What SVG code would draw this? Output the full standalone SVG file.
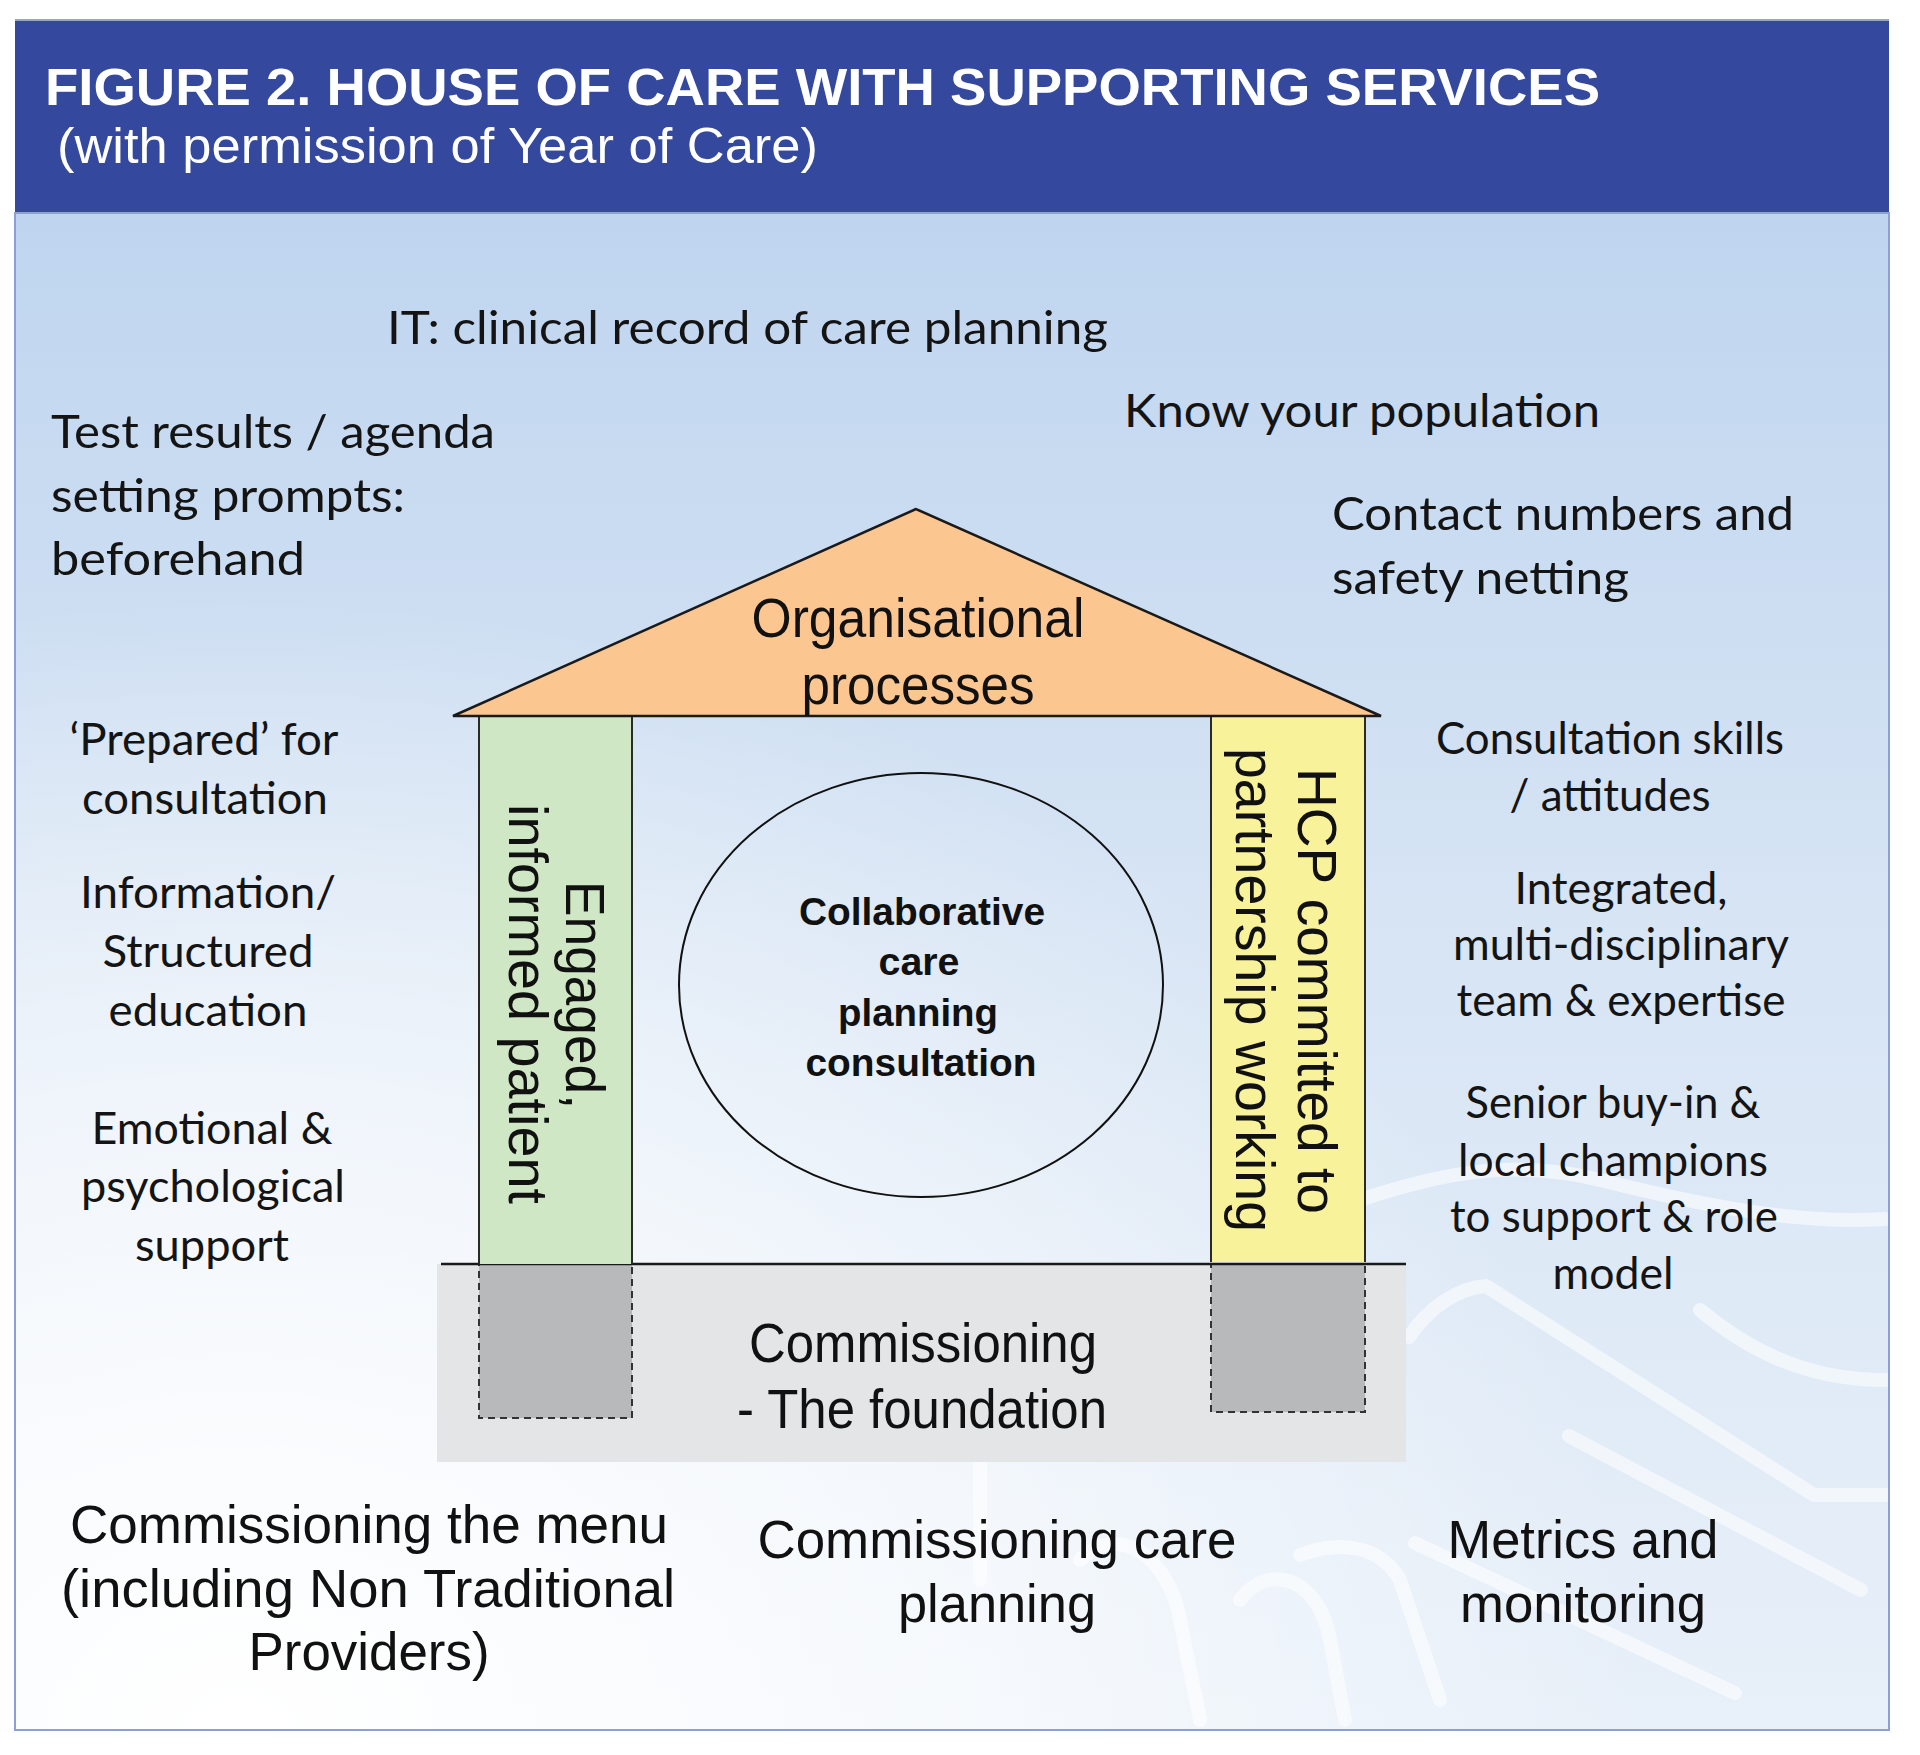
<svg xmlns="http://www.w3.org/2000/svg" width="1920" height="1755" viewBox="0 0 1920 1755">
<defs>
<linearGradient id="bg" x1="0" y1="0" x2="0" y2="1">
<stop offset="0" stop-color="#bfd5ef"/>
<stop offset="0.45" stop-color="#d6e4f4"/>
<stop offset="1" stop-color="#e8f0f9"/>
</linearGradient>
<radialGradient id="glow" cx="0.12" cy="1" r="0.75">
<stop offset="0" stop-color="#ffffff" stop-opacity="1"/>
<stop offset="0.55" stop-color="#ffffff" stop-opacity="0.6"/>
<stop offset="1" stop-color="#ffffff" stop-opacity="0"/>
</radialGradient>
<style>
.cal{font-family:Lato,"Open Sans","Liberation Sans",sans-serif;fill:#141414}
.ar{font-family:"Liberation Sans",Arial,sans-serif;fill:#111}
.top{font-size:47px}
.col{font-size:44px;text-anchor:middle}
.bot{font-size:54px;text-anchor:middle}
.wm{fill:none;stroke:#ffffff;stroke-opacity:0.55;stroke-width:14;stroke-linecap:round;stroke-linejoin:round}
.edge{stroke:#2a2a2a;stroke-width:2}
.dash{fill:#b7b9bb;stroke:#333;stroke-width:2;stroke-dasharray:7 5}
</style>
</defs>
<rect x="0" y="0" width="1920" height="1755" fill="#ffffff"/>
<g id="header">
<rect x="15" y="19" width="1874" height="194" fill="#34489e"/>
<line x1="15" y1="20" x2="1889" y2="20" stroke="#9aa6c8" stroke-width="2"/>
<text x="45" y="105" font-family="'Liberation Sans',Arial,sans-serif" font-weight="bold" font-size="52" fill="#ffffff" textLength="1555" lengthAdjust="spacingAndGlyphs">FIGURE 2. HOUSE OF CARE WITH SUPPORTING SERVICES</text>
<text x="57" y="163" font-family="'Liberation Sans',Arial,sans-serif" font-size="50" fill="#ffffff" textLength="761" lengthAdjust="spacingAndGlyphs">(with permission of Year of Care)</text>
</g>
<g id="background">
<rect x="15" y="213" width="1874" height="1517" fill="url(#bg)"/>
<rect x="15" y="213" width="1874" height="1517" fill="url(#glow)"/>
<path class="wm" d="M1363 1199 C1450 1170 1520 1160 1600 1180 C1700 1205 1800 1225 1885 1219"/>
<path class="wm" d="M1409 1337 C1430 1305 1460 1288 1486 1286 L1814 1495 L1885 1495"/>
<path class="wm" d="M1569 1436 L1861 1590"/>
<path class="wm" d="M1415 1543 L1735 1693"/>
<path class="wm" d="M1300 1555 C1340 1540 1380 1545 1400 1580 L1440 1700"/>
<path class="wm" d="M980 1463 L980 1580"/>
<path class="wm" d="M1080 1560 C1120 1520 1170 1560 1180 1620 L1200 1720"/>
<path class="wm" d="M1240 1600 C1270 1560 1320 1580 1330 1640 L1345 1720"/>
<path class="wm" d="M1700 1310 C1760 1360 1820 1380 1885 1380"/>
<rect x="15" y="213" width="1874" height="1517" fill="none" stroke="#8e9fd6" stroke-width="2"/>
</g>
<g id="foundation">
<rect x="437" y="1264" width="969" height="198" fill="#e4e5e7"/>
<rect class="dash" x="479" y="1264" width="153" height="154"/>
<rect class="dash" x="1211" y="1264" width="154" height="148"/>
<line x1="441" y1="1264" x2="1406" y2="1264" stroke="#1a1a1a" stroke-width="2.5"/>
<text class="ar" x="923" y="1362" font-size="56" text-anchor="middle" textLength="348" lengthAdjust="spacingAndGlyphs">Commissioning</text>
<text class="ar" x="922" y="1428" font-size="56" text-anchor="middle" textLength="370" lengthAdjust="spacingAndGlyphs">- The foundation</text>
</g>
<g id="pillar-left">
<rect x="479" y="716" width="153" height="548" fill="#cfe7c4"/>
<line class="edge" x1="479" y1="716" x2="479" y2="1264" stroke="#777"/>
<line class="edge" x1="632" y1="716" x2="632" y2="1264"/>
<text class="ar" font-size="55" text-anchor="middle" transform="translate(566 995) rotate(90)" textLength="228" lengthAdjust="spacingAndGlyphs">Engaged,</text>
<text class="ar" font-size="55" text-anchor="middle" transform="translate(509 1004) rotate(90)" textLength="400" lengthAdjust="spacingAndGlyphs">informed patient</text>
</g>
<g id="pillar-right">
<rect x="1211" y="716" width="154" height="546" fill="#f8f29a"/>
<line class="edge" x1="1211" y1="716" x2="1211" y2="1262"/>
<line class="edge" x1="1365" y1="716" x2="1365" y2="1262" stroke="#777"/>
<text class="ar" font-size="56" text-anchor="middle" transform="translate(1298 991) rotate(90)" textLength="446" lengthAdjust="spacingAndGlyphs">HCP committed to</text>
<text class="ar" font-size="56" text-anchor="middle" transform="translate(1236 990) rotate(90)" textLength="484" lengthAdjust="spacingAndGlyphs">partnership working</text>
</g>
<g id="roof">
<polygon points="916,509 453,716 1381,716" fill="#fcc690" stroke="#1a1a1a" stroke-width="2.5" stroke-linejoin="miter"/>
<text class="ar" x="918" y="637" font-size="56" text-anchor="middle" textLength="333" lengthAdjust="spacingAndGlyphs">Organisational</text>
<text class="ar" x="918" y="704" font-size="56" text-anchor="middle" textLength="233" lengthAdjust="spacingAndGlyphs">processes</text>
</g>
<g id="consultation">
<ellipse cx="921" cy="985" rx="242" ry="212" fill="none" stroke="#111" stroke-width="2"/>
<text class="ar" x="922" y="925" font-size="39" font-weight="bold" text-anchor="middle" textLength="246" lengthAdjust="spacingAndGlyphs">Collaborative</text>
<text class="ar" x="919" y="975" font-size="39" font-weight="bold" text-anchor="middle" textLength="81" lengthAdjust="spacingAndGlyphs">care</text>
<text class="ar" x="918" y="1026" font-size="39" font-weight="bold" text-anchor="middle" textLength="160" lengthAdjust="spacingAndGlyphs">planning</text>
<text class="ar" x="921" y="1076" font-size="39" font-weight="bold" text-anchor="middle" textLength="231" lengthAdjust="spacingAndGlyphs">consultation</text>
</g>
<g id="top-labels">
<text class="cal top" x="387" y="344" textLength="721" lengthAdjust="spacingAndGlyphs">IT: clinical record of care planning</text>
<text class="cal top" x="1124" y="427" textLength="476" lengthAdjust="spacingAndGlyphs">Know your population</text>
<text class="cal top" x="1332" y="530" textLength="462" lengthAdjust="spacingAndGlyphs">Contact numbers and</text>
<text class="cal top" x="1332" y="594" textLength="297" lengthAdjust="spacingAndGlyphs">safety netting</text>
<text class="cal top" x="51" y="448" textLength="444" lengthAdjust="spacingAndGlyphs">Test results / agenda</text>
<text class="cal top" x="51" y="512" textLength="354" lengthAdjust="spacingAndGlyphs">setting prompts:</text>
<text class="cal top" x="51" y="575" textLength="254" lengthAdjust="spacingAndGlyphs">beforehand</text>
</g>
<g id="left-labels">
<text class="cal col" x="204" y="755" textLength="269" lengthAdjust="spacingAndGlyphs">‘Prepared’ for</text>
<text class="cal col" x="205" y="814" textLength="246" lengthAdjust="spacingAndGlyphs">consultation</text>
<text class="cal col" x="208" y="908" textLength="256" lengthAdjust="spacingAndGlyphs">Information/</text>
<text class="cal col" x="208" y="967" textLength="211" lengthAdjust="spacingAndGlyphs">Structured</text>
<text class="cal col" x="208" y="1026" textLength="199" lengthAdjust="spacingAndGlyphs">education</text>
<text class="cal col" x="212" y="1144" textLength="241" lengthAdjust="spacingAndGlyphs">Emotional &amp;</text>
<text class="cal col" x="213" y="1202" textLength="264" lengthAdjust="spacingAndGlyphs">psychological</text>
<text class="cal col" x="212" y="1261" textLength="154" lengthAdjust="spacingAndGlyphs">support</text>
</g>
<g id="right-labels">
<text class="cal col" x="1610" y="754" textLength="348" lengthAdjust="spacingAndGlyphs">Consultation skills</text>
<text class="cal col" x="1610" y="811" textLength="201" lengthAdjust="spacingAndGlyphs">/ attitudes</text>
<text class="cal col" x="1621" y="904" textLength="213" lengthAdjust="spacingAndGlyphs">Integrated,</text>
<text class="cal col" x="1621" y="960" textLength="336" lengthAdjust="spacingAndGlyphs">multi-disciplinary</text>
<text class="cal col" x="1621" y="1016" textLength="329" lengthAdjust="spacingAndGlyphs">team &amp; expertise</text>
<text class="cal col" x="1613" y="1118" textLength="295" lengthAdjust="spacingAndGlyphs">Senior buy-in &amp;</text>
<text class="cal col" x="1613" y="1176" textLength="310" lengthAdjust="spacingAndGlyphs">local champions</text>
<text class="cal col" x="1614" y="1232" textLength="328" lengthAdjust="spacingAndGlyphs">to support &amp; role</text>
<text class="cal col" x="1613" y="1289" textLength="121" lengthAdjust="spacingAndGlyphs">model</text>
</g>
<g id="bottom-labels">
<text class="ar bot" x="369" y="1543" textLength="598" lengthAdjust="spacingAndGlyphs">Commissioning the menu</text>
<text class="ar bot" x="368" y="1607" textLength="614" lengthAdjust="spacingAndGlyphs">(including  Non Traditional</text>
<text class="ar bot" x="369" y="1670" textLength="241" lengthAdjust="spacingAndGlyphs">Providers)</text>
<text class="ar bot" x="997" y="1558" textLength="479" lengthAdjust="spacingAndGlyphs">Commissioning care</text>
<text class="ar bot" x="997" y="1622" textLength="198" lengthAdjust="spacingAndGlyphs">planning</text>
<text class="ar bot" x="1583" y="1558" textLength="271" lengthAdjust="spacingAndGlyphs">Metrics and</text>
<text class="ar bot" x="1583" y="1622" textLength="246" lengthAdjust="spacingAndGlyphs">monitoring</text>
</g>
</svg>
